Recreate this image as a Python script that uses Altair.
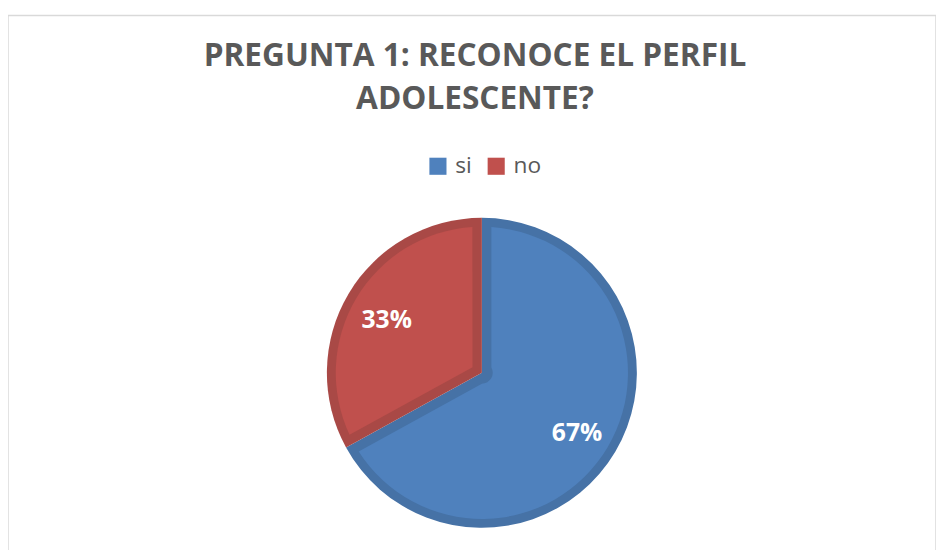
import altair as alt
import pandas as pd

categories = ["si", "no"]
values = [67, 33]
order = [1, 2]
fill_colors = ["#4F81BD", "#C0504D"]
edge_colors = ["#4672A6", "#A94946"]
title_lines = ["PREGUNTA 1: RECONOCE EL PERFIL", "ADOLESCENTE?"]

df = pd.DataFrame({"cat": categories, "val": values, "ord": order})

theta = alt.Theta("val:Q", stack=True)
cx = alt.value(480)
cy = alt.value(362)

outer = alt.Chart(df).mark_arc(outerRadius=157, stroke=None).encode(
    theta=theta,
    order=alt.Order("ord:Q"),
    color=alt.Color("cat:N", scale=alt.Scale(domain=categories, range=edge_colors), legend=None),
    x=cx, y=cy,
)

inner = alt.Chart(df).mark_arc(outerRadius=148, innerRadius=11, padAngle=0.13).encode(
    theta=theta,
    order=alt.Order("ord:Q"),
    color=alt.Color(
        "cat:N",
        scale=alt.Scale(domain=categories, range=fill_colors),
        legend=alt.Legend(
            title=None, orient="none", legendX=424, legendY=141, direction="horizontal",
            symbolType="square", symbolSize=300, symbolStrokeWidth=0,
            labelFontSize=23, labelColor="#595959", labelFont="Open Sans",
            labelOffset=6, columnPadding=13, padding=0,
        ),
    ),
    x=cx, y=cy,
)

labels = alt.Chart(df).transform_calculate(
    lab="datum.val + '%'"
).mark_text(
    radius=112, font="Open Sans", fontWeight="bold", fontSize=25, color="white",
    align="center", baseline="middle", dy=4,
).encode(
    theta=theta,
    order=alt.Order("ord:Q"),
    text="lab:N",
    x=cx, y=cy,
)

chart = alt.layer(outer, inner, labels).resolve_scale(color="independent").properties(
    width=940, height=545,
    autosize=alt.AutoSizeParams(type="none"),
    padding={"left": 0, "top": 4, "right": 0, "bottom": 0},
    title=alt.Title(
        text=title_lines, font="Open Sans", fontSize=32, fontWeight="bold",
        color="#595959", lineHeight=44, anchor="middle", offset=0, dy=102, dx=3,
    ),
).configure_view(stroke="#D9D9D9", strokeWidth=1.5)

chart.save("out.html", embed_options={"renderer": "svg", "actions": False})
